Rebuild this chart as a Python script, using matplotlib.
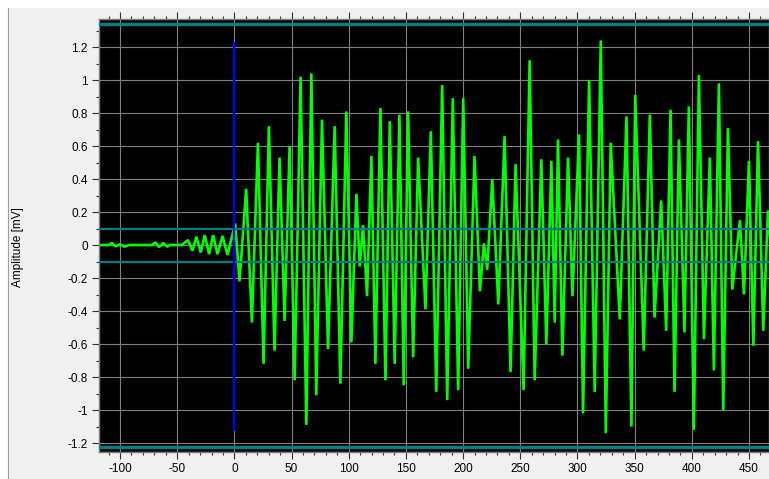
import numpy as np
import matplotlib.pyplot as plt
from matplotlib.lines import Line2D
from matplotlib.patches import Rectangle
from matplotlib.ticker import MultipleLocator, FuncFormatter

# baseline before the trigger (time in ms, amplitude in mV)
pre_time = [-118.4, -110.0, -107.0, -104.0, -100.0, -96.0, -92.0, -80.0,
            -72.0, -69.0, -66.0, -62.0, -59.0, -56.0, -46.0,
            -40.5, -36.7, -33.2, -29.4, -25.9, -22.1, -18.6, -14.8,
            -10.4, -6.0]
pre_amp = [0.0, 0.0, 0.012, -0.008, 0.004, -0.01, 0.0, 0.0,
           0.0, 0.016, -0.012, 0.012, -0.01, 0.0, 0.0,
           0.03, -0.035, 0.05, -0.045, 0.06, -0.055, 0.06, -0.055,
           0.055, -0.06]

# response after the trigger: alternating peaks and troughs
post_time = [0.7, 4.5, 10.3, 15.3, 20.6, 25.5, 30.2, 35.1, 39.5, 43.9,
             48.3, 52.7, 57.9, 62.9, 67.3, 71.6, 76.6, 81.9, 87.7, 92.7,
             97.9, 102.3, 106.7, 109.6, 112.5, 116.0, 119.8, 123.3, 127.7, 132.1,
             135.9, 140.2, 144.3, 148.1, 151.9, 156.3, 160.7, 167.1, 171.8, 176.5,
             181.7, 186.1, 191.0, 195.7, 200.1, 204.5, 210.0, 214.7, 218.2, 221.1,
             225.5, 230.8, 236.3, 241.5, 245.9, 252.9, 258.2, 262.6, 268.4, 272.8,
             277.2, 280.1, 283.0, 286.8, 291.8, 295.6, 301.4, 304.9, 310.2, 315.1,
             320.4, 324.8, 329.1, 337.0, 342.9, 347.2, 350.5, 358.0, 363.3, 367.4,
             373.2, 377.6, 381.4, 384.9, 388.7, 393.6, 397.4, 401.8, 406.2, 410.6,
             415.8, 419.3, 423.7, 427.5, 431.6, 435.4, 442.1, 445.6, 450.0, 453.8,
             457.9, 462.5, 466.6, 470.0]
post_amp = [0.13, -0.22, 0.34, -0.47, 0.62, -0.72, 0.72, -0.64, 0.53, -0.46,
            0.60, -0.82, 1.02, -1.09, 1.04, -0.91, 0.76, -0.63, 0.72, -0.84,
            0.81, -0.59, 0.31, -0.13, 0.12, -0.31, 0.54, -0.72, 0.83, -0.82,
            0.75, -0.72, 0.79, -0.85, 0.81, -0.68, 0.53, -0.39, 0.69, -0.89,
            0.97, -0.94, 0.89, -0.88, 0.89, -0.75, 0.54, -0.28, 0.01, -0.15,
            0.40, -0.36, 0.66, -0.77, 0.49, -0.88, 1.12, -0.82, 0.52, -0.60,
            0.51, -0.47, 0.64, -0.67, 0.53, -0.31, 0.67, -1.02, 1.00, -0.89,
            1.24, -1.14, 0.62, -0.45, 0.78, -1.10, 0.91, -0.64, 0.79, -0.44,
            0.27, -0.52, 0.82, -0.89, 0.64, -0.53, 0.84, -1.12, 1.03, -0.57,
            0.53, -0.76, 0.98, -1.00, 0.71, -0.27, 0.15, -0.30, 0.51, -0.61,
            0.63, -0.52, 0.21, -0.10]

threshold = 0.1
rail_levels = [1.34, -1.224]
trigger_time = 0.0
trigger_span = (-1.125, 1.232)

W, H = 769, 479
fig = plt.figure(figsize=(W / 100, H / 100), dpi=100)
fig.patch.set_facecolor("white")
fig.add_artist(Rectangle((7.5 / W, 0), 1, 1 - 8 / H, transform=fig.transFigure,
                         facecolor="#f0f0f0", edgecolor="none", zorder=-10))
fig.add_artist(Line2D([7.5 / W, 7.5 / W], [0, 1 - 8 / H], transform=fig.transFigure,
                      color="#a0a0a0", lw=0.8))

ax = fig.add_axes([99 / W, 27.5 / H, 1 - 99 / W, 433 / H])
ax.set_facecolor("black")
ax.set_xlim(-118.4, 467.5)
ax.set_ylim(-1.2515, 1.373)

time = pre_time + post_time
amp = pre_amp + post_amp
ax.plot(time, amp, color="#00ff00", lw=1.9, zorder=2, solid_joinstyle="bevel")

for level in (threshold, -threshold):
    ax.axhline(level, color="#008080", lw=1.6, zorder=3)
for level in rail_levels:
    ax.axhline(level, color="#008080", lw=2.4, zorder=3)
ax.vlines(trigger_time, *trigger_span, color="#0000ff", lw=1.6, zorder=4)

ax.xaxis.set_major_locator(MultipleLocator(50))
ax.xaxis.set_minor_locator(MultipleLocator(10))
ax.yaxis.set_major_locator(MultipleLocator(0.2))
ax.yaxis.set_minor_locator(MultipleLocator(0.1))
fmt = FuncFormatter(lambda v, _: f"{round(v, 2) + 0.0:g}")
ax.xaxis.set_major_formatter(fmt)
ax.yaxis.set_major_formatter(fmt)

ax.grid(which="major", color="#808080", lw=0.8, zorder=0)
ax.set_axisbelow(True)
for sp in ax.spines.values():
    sp.set_color("#808080")
    sp.set_linewidth(1.0)

ax.tick_params(which="both", direction="out", color="#303030", width=0.8,
               top=True, right=False, labeltop=False)
ax.tick_params(which="major", length=5, labelsize=8.5, pad=3)
ax.tick_params(which="minor", length=2.5)
for lab in ax.get_xticklabels() + ax.get_yticklabels():
    lab.set_fontfamily("Liberation Sans")

fig.text(18 / W, 1 - 247 / H, "Amplitude [mV]", rotation=90, ha="center",
         va="center", fontsize=8.5, family="Liberation Sans")

fig.savefig("out.png", dpi=100, facecolor=fig.get_facecolor())
